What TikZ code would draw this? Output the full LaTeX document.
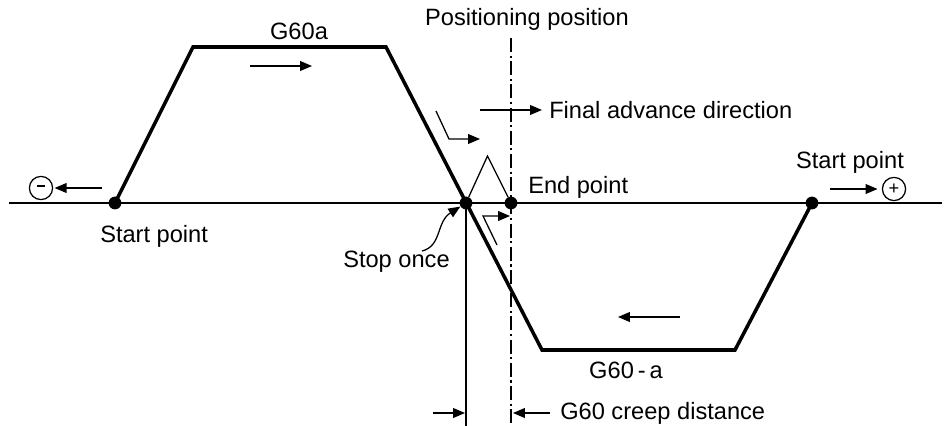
\documentclass[tikz,border=0pt]{standalone}
\usepackage{fontspec}
\setmainfont{Liberation Sans}
\usetikzlibrary{arrows.meta}

\begin{document}
\begin{tikzpicture}[
    x=0.025cm, y=-0.025cm,
    >={Triangle[length=8.5pt, width=7pt]},
    path/.style={line width=2.5pt, line join=miter},
    thin/.style={line width=0.9pt},
    dot/.style={circle, fill, inner sep=0pt, minimum size=0.32cm},
    lbl/.style={font=\fontsize{16.8}{19}\selectfont, inner sep=0pt},
    sign/.style={circle, draw, line width=0.9pt, inner sep=0pt,
                 minimum size=0.58cm, font=\fontsize{13}{13}\selectfont},
    dashdot/.style={line width=0.9pt, dash pattern=on 10pt off 2.5pt on 1.5pt off 2.5pt}
]
\useasboundingbox (0,0) rectangle (948,426);

% Achse und Punkte
\coordinate (axisL) at (9,203);
\coordinate (axisR) at (942,203);
\draw[thin] (axisL) -- (axisR);

\node[dot] (startL) at (115,203) {};
\node[dot] (stop)   at (466,203) {};
\node[dot] (endpt)  at (511,203) {};
\node[dot] (startR) at (812,203) {};

% Verfahrweg
\coordinate (topL) at (193,47);
\coordinate (topR) at (386,47);
\coordinate (botL) at (542,350);
\coordinate (botR) at (735,350);
\draw[path] (startL.center) -- (topL) -- (topR) -- (botL) -- (botR) -- (startR.center);

% Positionierposition
\coordinate (posTop) at (511,38);
\coordinate (posBot) at (511,426);
\draw[dashdot] (posTop) -- (posBot);
\node[lbl] (poslbl) at (527,19) {Positioning position};

\coordinate (stopBot) at (466,426);
\draw[thin] (stop.center) -- (stopBot);

% Richtungspfeile
\node[lbl] at (299,31) {G60a};
\coordinate (upA) at (250,66);
\coordinate (upB) at (312,66);
\draw[thin, ->] (upA) -- (upB);

\node[lbl] at (626,370) {G60\,-\,a};
\coordinate (dnA) at (680,317);
\coordinate (dnB) at (618,317);
\draw[thin, ->] (dnA) -- (dnB);

% Endanfahrt
\coordinate (finA) at (480,110);
\node[lbl, anchor=west] (finlbl) at (549,110) {Final advance direction};
\draw[thin, ->] (finA) -- ([xshift=-5pt]finlbl.west);

\coordinate (appA) at (436,111);
\coordinate (appB) at (449,139);
\coordinate (appC) at (480,139);
\draw[thin, ->] (appA) -- (appB) -- (appC);

\coordinate (ovA) at (497,245);
\coordinate (ovB) at (483,216);
\coordinate (ovC) at (510,216);
\draw[thin, ->] (ovA) -- (ovB) -- (ovC);

\coordinate (apex) at (487.5,156);
\draw[thin] (stop) -- (apex) -- (endpt);

\node[lbl, anchor=west] at (528,187) {End point};

% Startpunkte
\node[lbl, anchor=west] at (100,236) {Start point};
\node[sign] (minus) at (41,188) {\rule[2.5pt]{6pt}{1.6pt}};
\coordinate (minA) at (102,188);
\draw[thin, ->, shorten >=1pt] (minA) -- (minus);

\node[lbl] at (850,162) {Start point};
\node[sign] (plus) at (894,189) {+};
\coordinate (plA) at (830,189);
\draw[thin, ->, shorten >=3pt] (plA) -- (plus);

% Einmal anhalten
\node[lbl, anchor=west] (stoplbl) at (343,262) {Stop once};
\coordinate (curveFrom) at (422,251);
\draw[thin, ->] (curveFrom) .. controls (442,246) and (436,222) .. (stop);

% Kriechweg
\coordinate (crA) at (433,413);
\coordinate (crB) at (465,413);
\draw[thin, ->] (crA) -- (crB);
\node[lbl, anchor=west] (creeplbl) at (560,413) {G60 creep distance};
\coordinate (crC) at (513,413);
\draw[thin, ->] ([xshift=-7pt]creeplbl.west) -- (crC);

\end{tikzpicture}
\end{document}
